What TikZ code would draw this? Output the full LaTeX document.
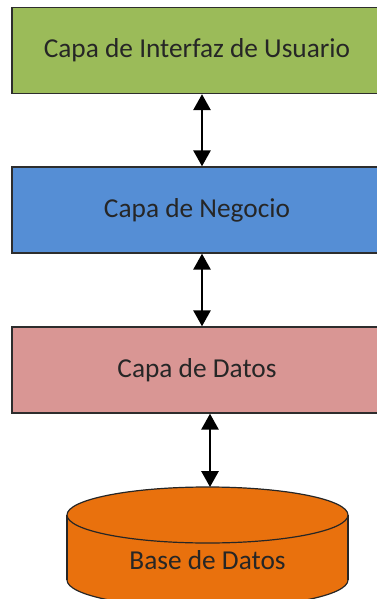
\documentclass[tikz,border=0pt]{standalone}
\usepackage{fontspec}
\setmainfont{Carlito}
\usetikzlibrary{arrows.meta}

\definecolor{capaverde}{RGB}{155,187,89}
\definecolor{capaazul}{RGB}{85,142,213}
\definecolor{caparosa}{RGB}{217,150,148}
\definecolor{bdnaranja}{RGB}{233,113,13}
\definecolor{bordegris}{RGB}{45,45,45}

\tikzset{
  capa/.style={draw=bordegris, line width=1.1pt, minimum width=277.5pt, minimum height=64.5pt,
    inner sep=0pt, text=black!85, font=\fontsize{20.5}{24}\selectfont},
  flecha/.style={line width=1.5pt, {Triangle[width=13pt,length=12pt]}-{Triangle[width=13pt,length=12pt]}},
  bd/.style={fill=bdnaranja, draw=black!85, line width=0.9pt}
}

\begin{document}
\begin{tikzpicture}[x=0.75pt,y=0.75pt,yscale=-1]
\useasboundingbox (0,0) rectangle (377,599);
\clip (0,0) rectangle (377,599);

% capas
\node [capa, fill=capaverde] (interfaz) at (197,50.5) {Capa de Interfaz de Usuario};
\node [capa, fill=capaazul] (negocio) at (197,210) {Capa de Negocio};
\node [capa, fill=caparosa] (datos) at (197,370) {Capa de Datos};

% base de datos (cilindro)
\draw [bd] (207.5,580) ellipse [x radius=140.5, y radius=28];
\fill [bdnaranja] (67,515) rectangle (348,580);
\draw [black!85, line width=0.9pt] (67,515) -- (67,580);
\draw [black!85, line width=0.9pt] (348,515) -- (348,580);
\draw [bd] (207.5,515) ellipse [x radius=140.5, y radius=28];
\coordinate (bdtope) at (210,487);
\node [text=black!85, font=\fontsize{20.5}{24}\selectfont] (basedatos) at (207.5,560) {Base de Datos};

% flechas
\draw [flecha] ([xshift=3.75pt]interfaz.south) -- ([xshift=3.75pt]negocio.north);
\draw [flecha] ([xshift=3.75pt]negocio.south) -- ([xshift=3.75pt]datos.north);
\draw [flecha] (datos.south -| bdtope) -- (bdtope);

\end{tikzpicture}
\end{document}
